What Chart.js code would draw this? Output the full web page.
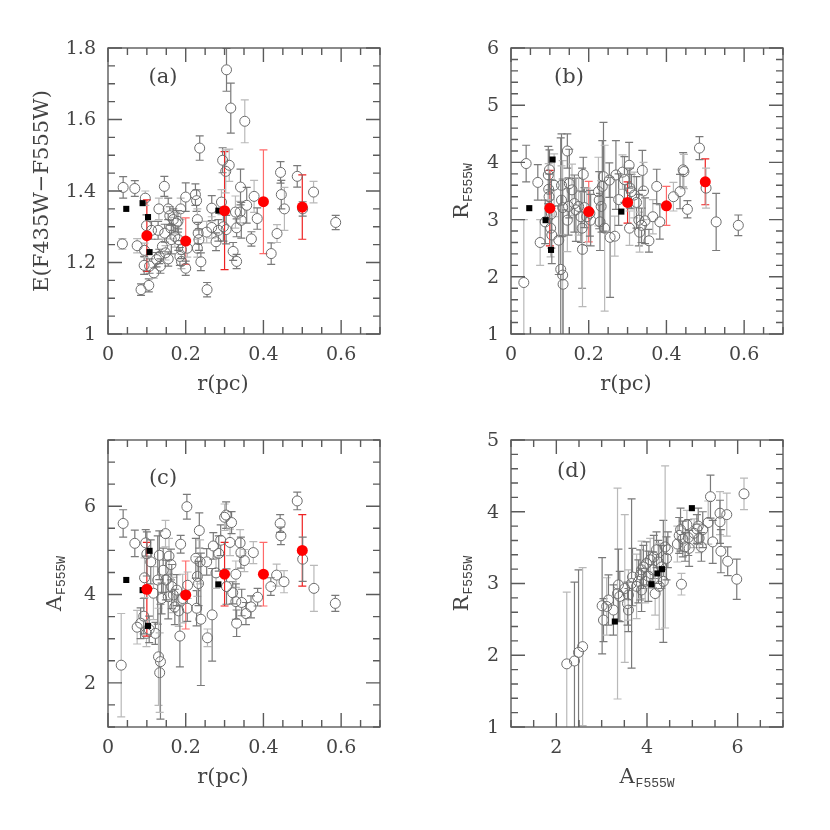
<!DOCTYPE html>
<html>
<head>
<meta charset="utf-8">
<script src="https://cdn.jsdelivr.net/npm/chart.js@4.4.0/dist/chart.umd.min.js"></script>
<style>
  body { margin: 0; background: #fff; }
  #wrap { position: relative; width: 830px; height: 830px; }
  #wrap canvas { position: absolute; }
</style>
</head>
<body>
<div id="wrap">
  <canvas id="pa" width="415" height="415" style="left:0;top:0"></canvas>
  <canvas id="pb" width="415" height="415" style="left:415px;top:0"></canvas>
  <canvas id="pc" width="415" height="415" style="left:0;top:415px"></canvas>
  <canvas id="pd" width="415" height="415" style="left:415px;top:415px"></canvas>
</div>
<script>
// ---- panel (a): r vs E(F435W-F555W)
const rA = [0.037,0.039,0.069,0.075,0.085,0.093,0.096,0.099,0.105,0.094,
  0.107,0.112,0.118,0.125,0.129,0.131,0.132,0.135,0.140,0.145,
  0.146,0.148,0.155,0.159,0.162,0.155,0.168,0.172,0.181,0.185,
  0.187,0.189,0.180,0.189,0.200,0.200,0.204,0.225,0.228,0.230,
  0.232,0.234,0.230,0.236,0.239,0.254,0.255,0.267,0.267,0.278,
  0.284,0.292,0.295,0.297,0.303,0.305,0.304,0.312,0.316,0.322,
  0.328,0.331,0.331,0.340,0.341,0.343,0.352,0.357,0.369,0.376,
  0.384,0.420,0.435,0.444,0.446,0.454,0.487,0.501,0.529,0.586,
  0.163,0.176];
const eA = [1.252,1.410,1.407,1.247,1.124,1.192,1.380,1.303,1.136,1.234,
  1.190,1.290,1.171,1.208,1.290,1.350,1.217,1.190,1.245,1.413,
  1.282,1.227,1.350,1.331,1.296,1.210,1.320,1.273,1.264,1.217,
  1.350,1.236,1.315,1.203,1.184,1.383,1.240,1.390,1.373,1.320,
  1.282,1.264,1.240,1.520,1.202,1.285,1.124,1.352,1.298,1.258,
  1.290,1.369,1.486,1.300,1.455,1.739,1.292,1.472,1.632,1.231,
  1.341,1.297,1.203,1.341,1.411,1.318,1.595,1.360,1.266,1.385,
  1.323,1.225,1.281,1.452,1.390,1.350,1.441,1.350,1.397,1.312,
  1.264,1.310];
const eAerr = [.015,.03,.022,.02,.016,.025,.02,.03,.018,.02,
  .02,.025,.015,.02,.025,.03,.02,.02,.02,.028,
  .025,.02,.03,.025,.03,.02,.03,.03,.03,.025,
  .03,.025,.03,.02,.02,.04,.025,.03,.03,.03,
  .03,.03,.025,.034,.025,.03,.02,.035,.03,.025,
  .03,.035,.035,.04,.06,.06,.04,.045,.07,.025,
  .045,.025,.02,.03,.05,.05,.06,.05,.02,.045,
  .03,.03,.025,.03,.04,.06,.03,.02,.03,.02,
  .04,.03];

// ---- panel (b): r vs R_F555W
const rB = [0.033,0.039,0.069,0.075,0.088,0.096,0.097,0.098,0.099,0.102,
  0.105,0.104,0.111,0.123,0.128,0.133,0.134,0.130,0.130,0.133,
  0.145,0.145,0.150,0.148,0.157,0.163,0.167,0.174,0.180,0.183,
  0.184,0.186,0.189,0.195,0.203,0.205,0.225,0.227,0.229,0.232,
  0.235,0.238,0.241,0.253,0.255,0.267,0.270,0.277,0.287,0.292,
  0.304,0.305,0.306,0.310,0.317,0.323,0.329,0.331,0.336,0.338,
  0.341,0.345,0.355,0.365,0.375,0.383,0.418,0.435,0.443,0.445,
  0.454,0.485,0.502,0.528,0.585];
const RB = [1.90,3.98,3.65,2.60,2.96,3.78,3.53,3.40,3.87,2.85,
  2.73,3.10,3.60,2.64,2.13,2.03,1.87,3.60,3.34,3.21,
  4.20,2.99,3.63,3.23,3.52,3.28,3.17,3.23,3.05,2.85,
  2.48,3.79,3.21,3.05,3.11,2.99,3.49,3.34,2.96,3.23,
  3.58,3.75,2.85,3.69,2.69,2.71,3.78,3.35,3.83,3.70,
  3.95,2.85,3.55,3.49,3.43,3.30,2.99,2.78,2.90,3.86,
  3.50,2.98,2.63,3.05,3.58,2.96,3.40,3.49,3.87,3.84,
  3.18,4.25,3.55,2.96,2.90];
const RBerr = [1.1,.32,.31,.4,.38,.5,.45,.4,.35,.5,
  .5,.6,.55,.6,2.3,2.0,1.3,.9,.6,.5,
  .3,.55,.6,.5,.45,.5,.55,.5,.45,1.05,
  1.0,.3,.35,.5,.4,.45,.6,.5,.5,.45,
  .8,.95,1.45,.3,1.05,.35,.6,.45,.3,.4,
  .4,.3,.35,.3,.4,.45,.45,.35,.3,.35,
  .5,.4,.2,.3,.3,.3,.25,.3,.3,.3,
  .15,.2,.35,.5,.18];

// ---- panel (c): r vs A_F555W
const rC = [0.034,0.039,0.069,0.075,0.084,0.092,0.094,0.097,0.100,0.099,
  0.106,0.110,0.117,0.122,0.128,0.130,0.132,0.135,0.133,0.138,
  0.142,0.148,0.149,0.155,0.157,0.162,0.164,0.168,0.172,0.177,
  0.182,0.185,0.187,0.192,0.203,0.204,0.205,0.226,0.228,0.230,
  0.233,0.235,0.237,0.239,0.254,0.256,0.268,0.271,0.278,0.285,
  0.290,0.300,0.304,0.305,0.314,0.318,0.321,0.329,0.329,0.331,
  0.340,0.342,0.344,0.351,0.355,0.368,0.374,0.385,0.419,0.434,
  0.443,0.445,0.453,0.487,0.501,0.530,0.585];
const AC = [2.40,5.61,5.16,3.26,3.35,3.51,4.38,5.17,4.92,3.12,
  3.21,4.74,4.03,3.12,4.33,2.59,4.89,2.48,2.23,3.91,
  4.55,5.38,4.33,3.95,4.87,4.68,4.18,3.99,3.72,4.10,
  3.63,3.06,5.14,3.91,5.99,3.69,4.21,4.82,3.69,4.41,
  4.25,5.45,4.74,3.44,4.74,3.02,3.54,5.10,4.49,4.93,
  5.23,5.75,5.80,4.18,5.18,5.63,4.04,4.46,3.84,3.35,
  5.17,4.95,3.82,4.77,3.57,3.72,4.95,3.94,4.18,4.44,
  5.61,5.33,4.29,6.12,4.80,4.14,3.80];
const ACerr = [1.17,.31,.3,.38,.35,.4,.45,.3,.5,.3,
  .3,.5,.6,.25,1.0,1.1,.55,1.3,.9,.35,
  .5,.3,.45,.5,.4,.35,.5,.4,.4,.35,
  .35,.7,.2,.55,.28,.3,.3,.45,.4,.45,
  .5,.4,.5,1.5,.3,.2,1.05,.3,.35,.4,
  .35,.3,.3,.4,.3,.25,.25,.3,.4,.3,
  .3,.35,.3,.25,.25,.25,.25,.2,.2,.25,
  .2,.2,.25,.2,.5,.52,.18];

// ---- panel (d): A_F555W vs R_F555W
const AD = [2.23,2.40,2.49,2.58,3.01,3.04,3.11,3.15,3.26,3.35,
  3.37,3.40,3.51,3.57,3.59,3.59,3.66,3.68,3.77,3.81,
  3.85,3.88,3.92,3.88,3.96,3.99,4.03,4.07,4.13,4.15,
  4.18,4.21,4.25,4.27,4.32,4.36,4.40,4.43,4.46,4.67,
  4.71,4.74,4.76,4.79,4.84,4.88,4.91,4.93,5.04,5.10,
  5.13,5.15,5.20,5.23,5.35,5.40,5.45,5.61,5.61,5.63,
  5.76,5.78,5.98,6.14];
const RD = [1.88,1.92,2.04,2.12,2.69,2.49,2.68,2.77,2.63,2.86,
  2.98,2.82,2.93,2.72,2.63,2.84,3.00,3.09,2.96,3.03,
  3.12,3.19,3.23,2.91,3.03,3.28,3.10,3.33,3.19,3.37,
  2.86,3.47,3.30,2.96,3.23,3.03,3.51,3.35,3.47,3.55,
  3.67,3.75,2.99,3.62,3.51,3.82,3.64,3.49,3.70,3.76,
  3.80,3.63,3.51,3.75,3.85,4.21,3.58,3.98,3.86,3.45,
  3.96,3.31,3.06,4.25];
const RDerr = [1.0,1.1,1.15,1.1,.67,.3,.4,.35,.35,1.47,
  .5,.35,1.03,.3,.3,.35,1.18,.4,.45,.3,
  .35,.4,.3,.3,.3,.3,.35,.3,.25,.3,
  .3,.25,.3,.6,.3,.85,1.13,.3,.25,.25,
  .25,.3,.15,.25,.2,.2,.25,.25,.2,.2,
  .25,.2,.2,.25,.3,.3,.3,.3,.3,.3,
  .3,.2,.28,.22];

// black squares (same five objects in every panel, same order)
const sqR = [0.047,0.089,0.103,0.107,0.284];
const sqE = [1.350,1.366,1.327,1.229,1.345];
const sqRv = [3.20,2.99,2.47,4.05,3.14];
const sqA = [4.33,4.10,3.29,4.99,4.23];

// red binned means
const binR = [0.1,0.2,0.3,0.4,0.5];
const binE = [1.275,1.26,1.345,1.37,1.355];
const binEerr = [0.10,0.065,0.165,0.145,0.09];
const binRv = [3.20,3.14,3.30,3.24,3.66];
const binRverr = [0.66,0.53,0.36,0.34,0.40];
const binA = [4.12,3.99,4.46,4.46,5.00];
const binAerr = [1.06,0.77,0.72,0.72,0.81];

// tick labels
const rTicks = ['0','0.2','0.4','0.6'];
const eTicks = ['1','1.2','1.4','1.6','1.8'];
const RTicksB = ['1','2','3','4','5','6'];
const ATicksC = ['2','4','6'];
const ATicksD = ['2','4','6'];
const RTicksD = ['1','2','3','4','5'];

const AXIS = '#5a5a5a';
const TEXT = '#444';
const TICK_FONT = '19px "DejaVu Serif"';
const MAIN_FONT = '21px "DejaVu Serif"';
const SUB_FONT = '13px "Liberation Mono"';

function pts(xs, ys) { return xs.map((v, i) => ({ x: v, y: ys[i] })); }

// vertical error bars, drawn through the chart scales
const errorBars = {
  id: 'errorBars',
  beforeDatasetsDraw(chart) {
    const ctx = chart.ctx, a = chart.chartArea;
    const sx = chart.scales.x, sy = chart.scales.y;
    ctx.save();
    ctx.beginPath();
    ctx.rect(a.left, a.top, a.right - a.left, a.bottom - a.top);
    ctx.clip();
    ctx.lineWidth = 1.2;
    chart.data.datasets.forEach(ds => {
      if (!ds.errors) return;
      ds.data.forEach((p, i) => {
        const e = ds.errors[i];
        const px = sx.getPixelForValue(p.x);
        const py = sy.getPixelForValue(p.y);
        const top = sy.getPixelForValue(p.y + e);
        const bot = sy.getPixelForValue(p.y - e);
        const gap = ds.hollow ? 5 : 0;
        ctx.strokeStyle = ds.red ? (i % 2 ? '#ff6a6a' : '#ee2222') : (i % 3 === 0 ? '#b9b9b9' : '#7a7a7a');
        ctx.beginPath();
        ctx.moveTo(px, top); ctx.lineTo(px, py - gap);
        ctx.moveTo(px, py + gap); ctx.lineTo(px, bot);
        ctx.moveTo(px - 4, top); ctx.lineTo(px + 4, top);
        ctx.moveTo(px - 4, bot); ctx.lineTo(px + 4, bot);
        ctx.stroke();
      });
    });
    ctx.restore();
  }
};

function drawTitle(ctx, t, x, y, rotated) {
  ctx.save();
  ctx.translate(x, y);
  if (rotated) ctx.rotate(-Math.PI / 2);
  ctx.font = MAIN_FONT;
  const w1 = ctx.measureText(t.main).width;
  ctx.font = SUB_FONT;
  const w2 = t.sub ? ctx.measureText(t.sub).width + 1 : 0;
  const u = -(w1 + w2) / 2;
  ctx.textAlign = 'left';
  ctx.textBaseline = 'alphabetic';
  ctx.fillStyle = TEXT;
  ctx.font = MAIN_FONT;
  ctx.fillText(t.main, u, 0);
  if (t.sub) {
    ctx.font = SUB_FONT;
    ctx.fillText(t.sub, u + w1 + 1, 4);
  }
  ctx.restore();
}

const panelCfg = {
  pa: { xMajor: 0.2, xMinor: 0.05, yMajor: 0.2, yMinor: 0.05, xLabels: rTicks, yLabels: eTicks,
        tag: '(a)', tagAt: [55, 30],
        xTitle: { main: 'r(pc)' }, xTitleAt: [115, 56],
        yTitle: { main: 'E(F435W\u2212F555W)' }, yTitleAt: [60] },
  pb: { xMajor: 0.2, xMinor: 0.05, yMajor: 1, yMinor: 0.2, xLabels: rTicks, yLabels: RTicksB,
        tag: '(b)', tagAt: [58, 30],
        xTitle: { main: 'r(pc)' }, xTitleAt: [115, 56],
        yTitle: { main: 'R', sub: 'F555W' }, yTitleAt: [43] },
  pc: { xMajor: 0.2, xMinor: 0.05, yMajor: 2, yMinor: 0.5, xLabels: rTicks, yLabels: ATicksC,
        tag: '(c)', tagAt: [55, 39],
        xTitle: { main: 'r(pc)' }, xTitleAt: [115, 56],
        yTitle: { main: 'A', sub: 'F555W' }, yTitleAt: [47] },
  pd: { xMajor: 2, xMinor: 0.5, yMajor: 1, yMinor: 0.2, xLabels: ATicksD, yLabels: RTicksD,
        tag: '(d)', tagAt: [61, 32],
        xTitle: { main: 'A', sub: 'F555W' }, xTitleAt: [136, 56],
        yTitle: { main: 'R', sub: 'F555W' }, yTitleAt: [43] }
};

// frame, inward ticks on all sides, labels and titles
const frame = {
  id: 'frame',
  afterDraw(chart) {
    const o = panelCfg[chart.canvas.id];
    const ctx = chart.ctx, a = chart.chartArea;
    const sx = chart.scales.x, sy = chart.scales.y;
    const isMaj = (v, m) => Math.abs(v / m - Math.round(v / m)) < 1e-6;
    const each = (min, max, step, fn) => {
      for (let k = Math.ceil(min / step - 1e-6); k * step <= max + 1e-9; k++) fn(k * step);
    };
    ctx.save();
    ctx.strokeStyle = AXIS;
    ctx.lineWidth = 1.4;
    ctx.strokeRect(a.left, a.top, a.right - a.left, a.bottom - a.top);
    ctx.beginPath();
    each(sx.min, sx.max, o.xMinor, v => {
      const p = sx.getPixelForValue(v), L = isMaj(v, o.xMajor) ? 14 : 7;
      ctx.moveTo(p, a.bottom); ctx.lineTo(p, a.bottom - L);
      ctx.moveTo(p, a.top); ctx.lineTo(p, a.top + L);
    });
    each(sy.min, sy.max, o.yMinor, v => {
      const p = sy.getPixelForValue(v), L = isMaj(v, o.yMajor) ? 14 : 7;
      ctx.moveTo(a.left, p); ctx.lineTo(a.left + L, p);
      ctx.moveTo(a.right, p); ctx.lineTo(a.right - L, p);
    });
    ctx.stroke();

    ctx.fillStyle = TEXT;
    ctx.font = TICK_FONT;
    ctx.textAlign = 'center';
    ctx.textBaseline = 'middle';
    o.xLabels.forEach(s => ctx.fillText(s, sx.getPixelForValue(parseFloat(s)), a.bottom + 21));
    ctx.textAlign = 'right';
    o.yLabels.forEach(s => ctx.fillText(s, a.left - 12, sy.getPixelForValue(parseFloat(s)) + 1));

    ctx.textAlign = 'center';
    ctx.font = MAIN_FONT;
    ctx.fillText(o.tag, a.left + o.tagAt[0], a.top + o.tagAt[1]);

    drawTitle(ctx, o.xTitle, a.left + o.xTitleAt[0], a.bottom + o.xTitleAt[1], false);
    drawTitle(ctx, o.yTitle, a.left - o.yTitleAt[0], (a.top + a.bottom) / 2, true);
    ctx.restore();
  }
};

function makePanel(id, pad, xr, yr, gx, gy, ge, qx, qy, bx, by, be) {
  const datasets = [];
  if (bx) {
    datasets.push({ data: pts(bx, by), errors: be, red: true,
      pointRadius: 5.5, pointBackgroundColor: '#ff0000', pointBorderColor: '#ff0000', pointBorderWidth: 0 });
  }
  datasets.push({ data: pts(qx, qy), pointStyle: 'rect', pointRadius: 4.3,
    pointBackgroundColor: '#000', pointBorderColor: '#000', pointBorderWidth: 0 });
  datasets.push({ data: pts(gx, gy), errors: ge, hollow: true,
    pointRadius: 5, pointBackgroundColor: 'rgba(0,0,0,0)', pointBorderColor: '#6c6c6c', pointBorderWidth: 1 });
  new Chart(document.getElementById(id), {
    type: 'scatter',
    data: { datasets },
    options: {
      responsive: false,
      animation: false,
      devicePixelRatio: 1,
      events: [],
      layout: { padding: pad },
      plugins: { legend: { display: false }, tooltip: { enabled: false } },
      scales: {
        x: { type: 'linear', min: xr[0], max: xr[1], display: false },
        y: { type: 'linear', min: yr[0], max: yr[1], display: false }
      }
    },
    plugins: [errorBars, frame]
  });
}

makePanel('pa', { left: 108, top: 48, right: 35, bottom: 81 }, [0, 0.7], [1, 1.8],
  rA, eA, eAerr, sqR, sqE, binR, binE, binEerr);
makePanel('pb', { left: 96, top: 48, right: 47, bottom: 81 }, [0, 0.7], [1, 6],
  rB, RB, RBerr, sqR, sqRv, binR, binRv, binRverr);
makePanel('pc', { left: 108, top: 25, right: 35, bottom: 103 }, [0, 0.7], [1, 7.5],
  rC, AC, ACerr, sqR, sqA, binR, binA, binAerr);
makePanel('pd', { left: 96, top: 25, right: 47, bottom: 103 }, [1, 7], [1, 5],
  AD, RD, RDerr, sqA, sqRv, null, null, null);
</script>
</body>
</html>
